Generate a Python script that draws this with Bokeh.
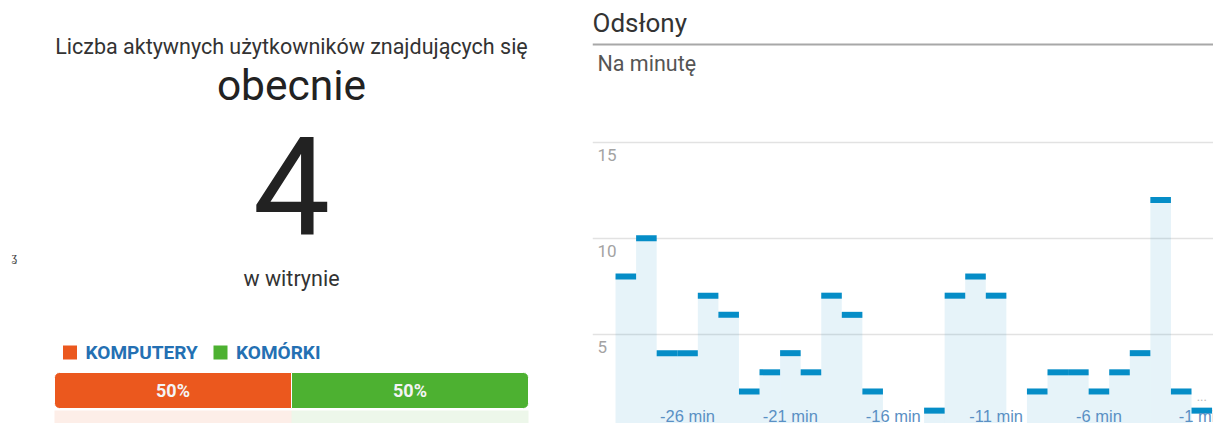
from bokeh.plotting import figure
from bokeh.models import Range1d, FixedTicker, Grid, Span
from bokeh.layouts import row
from bokeh.embed import file_html
from bokeh.resources import INLINE
from bokeh.core.properties import value

# ---------------- data ----------------
minutes = list(range(-29, 0))
pageviews = [8, 10, 4, 4, 7, 6, 2, 3, 4, 3, 7, 6, 2, 0, 0, 1, 7, 8, 7, 0, 2, 3, 3, 2, 3, 4, 12, 2, 1]
y_ticks = [5, 10, 15]
x_ticks = [-26, -21, -16, -11, -6, -1]
x_tick_labels = ["-26 min", "-21 min", "-16 min", "-11 min", "-6 min", "-1 min"]
devices = ["KOMPUTERY", "KOMÓRKI"]
device_share = [50, 50]
device_colors = ["#EB581E", "#4DB131"]
active_users = 4
headline = "Liczba aktywnych użytkowników znajdujących się"
headline2 = "obecnie"
subline = "w witrynie"
chart_title = "Odsłony"
chart_subtitle = "Na minutę"

FONT = value("Roboto")
H = 423

# ---------------- left panel ----------------
LW = 592
PX_PCT = 4.74            # pixels per percent of the device bar
L0 = -54 / PX_PCT
left = figure(width=LW, height=H, x_range=Range1d(L0, L0 + LW / PX_PCT),
              y_range=Range1d(H, 0), x_axis_type=None, y_axis_type=None,
              output_backend="svg", toolbar_location=None, min_border=0)
left.grid.visible = False
left.outline_line_color = None


def ltext(x, y, t, size, **kw):
    left.text(x=x, y=y, text=t, text_font=FONT, text_font_size=size,
              text_baseline="middle", **kw)


ltext([50], [45.5], [headline], "21.5px", text_align="center", text_color="#333333")
ltext([50], [85], [headline2], "42.5px", text_align="center", text_color="#222222")
ltext([50], [185], [str(active_users)], "138px", text_align="center", text_color="#222222")
ltext([50], [277.5], [subline], "21.5px", text_align="center", text_color="#333333")
ltext([(14 - 54) / PX_PCT], [256], ["ʓ"], "12px", text_align="center", text_color="#444444")

# legend
leg_sq_x = [(69.5 - 54) / PX_PCT, (220 - 54) / PX_PCT]
leg_tx_x = [(85 - 54) / PX_PCT, (235.5 - 54) / PX_PCT]
left.scatter(x=leg_sq_x, y=[352, 352], marker="square", size=14,
             fill_color=device_colors, line_color=None)
ltext(leg_tx_x, [352, 352], devices, "19px", text_font_style="bold",
      text_align="left", text_color="#2470B3")

# stacked share bar
lefts, rights, acc = [], [], 0
for s in device_share:
    lefts.append(acc)
    acc += s
    rights.append(acc)
bar_y = 390
radii = [(5, 0, 0, 5), (0, 5, 5, 0)]
for i in range(len(devices)):
    left.hbar(y=[bar_y], left=[lefts[i]], right=[rights[i]], height=36,
              fill_color=device_colors[i], line_color="white", line_width=1,
              border_radius=radii[i])
    left.hbar(y=[bar_y + 27], left=[lefts[i]], right=[rights[i]], height=14,
              fill_color=device_colors[i], fill_alpha=0.1, line_color=None)
ltext([(l + r) / 2 for l, r in zip(lefts, rights)], [bar_y] * len(devices),
      [f"{s}%" for s in device_share], "18px", text_font_style="bold",
      text_align="center", text_color="#F4F4F4")

# ---------------- right panel ----------------
RW = 1213 - LW
PX_MIN = 20.57
PX_UNIT = 19.16
X0 = -30.62
ZERO_Y = 429.3          # screen row of value 0


def sy(y):
    return (ZERO_Y - y) / PX_UNIT


right = figure(width=RW, height=H, x_range=Range1d(X0, X0 + RW / PX_MIN),
               y_range=Range1d(sy(H), sy(0)), x_axis_type=None, y_axis_type=None,
               output_backend="svg", toolbar_location=None, min_border=0)
right.grid.visible = False
right.outline_line_color = None
right.add_layout(Grid(dimension=1, ticker=FixedTicker(ticks=y_ticks),
                      grid_line_color="#e2e2e2", grid_line_width=1.5))

done_m, done_v = minutes[:-1], pageviews[:-1]
right.vbar(x=done_m, top=done_v, bottom=0, width=1, fill_color="#058DC7",
           fill_alpha=0.1, line_color=None)
right.segment(x0=[m - 0.5 for m in minutes], x1=[m + 0.5 for m in minutes],
              y0=pageviews, y1=pageviews, line_color="#058DC7", line_width=6, line_cap="butt")

# y tick labels inside the plot
right.text(x=[X0 + 5 / PX_MIN] * len(y_ticks), y=[v - 13 / PX_UNIT for v in y_ticks],
           text=[str(v) for v in y_ticks], text_font=FONT, text_font_size="17px",
           text_align="left", text_baseline="middle", text_color="#a3a3a3")
# x tick labels inside the plot
right.text(x=x_ticks, y=[sy(415)] * len(x_ticks), text=x_tick_labels,
           text_font=value("Liberation Sans"), text_font_size="16.5px",
           text_align="center", text_baseline="middle", text_color="#5A90C4")
right.text(x=[minutes[-1]], y=[pageviews[-1] + 0.75], text=["..."], text_font=FONT,
           text_font_size="13px", text_align="center", text_baseline="middle",
           text_color="#bbbbbb")

# title block
right.text(x=[X0], y=[sy(22)], text=[chart_title], text_font=FONT,
           text_font_size="26px", text_align="left", text_baseline="middle",
           text_color="#333333")
right.add_layout(Span(location=sy(44), dimension="width",
                      line_color="#a8a8a8", line_width=2))
right.text(x=[X0 + 5 / PX_MIN], y=[sy(62.5)], text=[chart_subtitle],
           text_font=FONT, text_font_size="21.5px", text_align="left",
           text_baseline="middle", text_color="#555555")

page = row(left, right)
open("out.html", "w").write(file_html(page, INLINE))
